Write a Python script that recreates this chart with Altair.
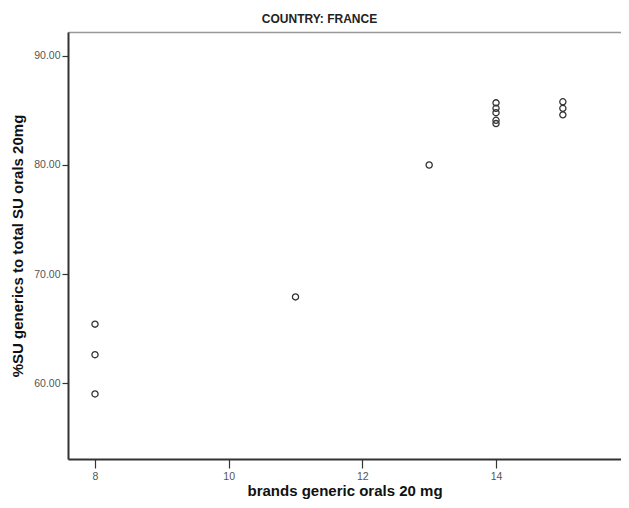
import altair as alt
import pandas as pd

brands = [8, 8, 8, 11, 13, 14, 14, 14, 14, 14, 15, 15, 15]
pct_generics = [65.4, 62.6, 59.0, 67.9, 80.0, 85.7, 85.2, 84.8, 84.1, 83.8, 85.8, 85.2, 84.6]

df = pd.DataFrame({"brands": brands, "pct": pct_generics})

axis_common = dict(grid=False, domain=True, domainColor="#333333", domainWidth=2,
                   tickColor="#333333", tickWidth=1.2,
                   labelFontSize=10.5, labelColor="#555555", labelFont="Liberation Sans",
                   titleFontSize=15, titleFont="Liberation Sans", titleFontWeight="bold",
                   titleColor="#111111")

x_scale = alt.Scale(domain=[7.596, 15.87], nice=False, zero=False)
y_scale = alt.Scale(domain=[53.03, 92.2], nice=False, zero=False)

base = alt.Chart(df)

points = base.mark_point(
    shape="circle", filled=False, size=38, color="#333333", strokeWidth=1.3, opacity=1
).encode(
    x=alt.X("brands:Q", title="brands generic orals 20 mg", scale=x_scale,
            axis=alt.Axis(values=[8, 10, 12, 14], format="d", tickSize=9,
                          labelPadding=3, titlePadding=2, **axis_common)),
    y=alt.Y("pct:Q", title="%SU generics to total SU orals 20mg", scale=y_scale,
            axis=alt.Axis(values=[60, 70, 80, 90], format=".2f", tickSize=6,
                          labelPadding=2, titlePadding=8, **axis_common)),
)

top_border = base.mark_point(opacity=0).encode(
    x=alt.X("brands:Q", scale=x_scale,
            axis=alt.Axis(orient="top", title=None, labels=False, ticks=False,
                          grid=False, domain=True, domainColor="#999999", domainWidth=1.5)),
    y=alt.Y("pct:Q", scale=y_scale),
)

chart = alt.layer(points, top_border).resolve_axis(x="independent").properties(
    width=553, height=427,
    title=alt.TitleParams("COUNTRY: FRANCE", fontSize=12, fontWeight="bold",
                          font="Liberation Sans", color="#222222", anchor="middle",
                          offset=6, dx=-25),
    autosize=alt.AutoSizeParams(type="none"),
    padding={"left": 60, "top": 24, "right": 0, "bottom": 41},
).configure_view(
    fill="#f0f0f0", strokeWidth=0
).configure(background="white")

chart.save("out.html", embed_options={"renderer": "svg", "actions": False})
